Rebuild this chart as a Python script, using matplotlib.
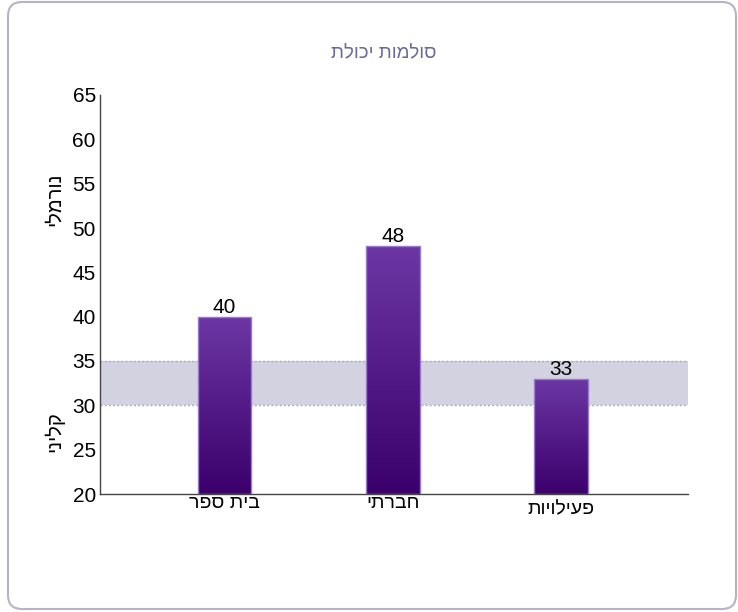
import numpy as np
import matplotlib
matplotlib.use('Agg')
import matplotlib.pyplot as plt
from matplotlib.patches import FancyBboxPatch
from matplotlib.colors import LinearSegmentedColormap

# data
categories = ['בית ספר', 'חברתי', 'פעילויות']
values = [40, 48, 33]
band_low, band_high = 30, 35
y_ticks = [20, 25, 30, 35, 40, 45, 50, 55, 60, 65]
title = 'סולמות יכולת'
label_normal = 'נורמלי'
label_clinical = 'קליני'


def rtl(s):
    # matplotlib has no bidi support, reverse Hebrew for display
    return s[::-1]


plt.rcParams['font.family'] = ['Liberation Sans', 'DejaVu Sans']

fig = plt.figure(figsize=(7.38, 6.12), dpi=100)

# rounded frame around the chart
frame = FancyBboxPatch((8, 3), 728, 607, boxstyle='round,pad=0,rounding_size=14',
                       transform=None, facecolor='none', edgecolor='#b4b4c8',
                       linewidth=1.5, zorder=-1)
fig.patches.append(frame)

ax = fig.add_axes([100 / 738, 1 - 494 / 612, 588 / 738, 399 / 612])
ax.set_facecolor('none')

x = np.arange(len(categories))
width = 0.32

# shaded band
ax.axhspan(band_low, band_high, facecolor='#d2d2e1', edgecolor='none', zorder=1)
for yb in (band_low, band_high):
    ax.axhline(yb, color='#a8a8c8', linestyle=(0, (1.5, 1.5)), linewidth=1, zorder=1)

cmap = LinearSegmentedColormap.from_list('bar', ['#3b006c', '#6c37a4'])
grad = np.linspace(0, 1, 256).reshape(-1, 1)
bars = ax.bar(x, np.array(values) - 20, bottom=20, width=width,
              facecolor='none', edgecolor='#9a78cc', linewidth=1, zorder=3)
for b, v in zip(bars, values):
    im = ax.imshow(grad, cmap=cmap, origin='lower', aspect='auto', zorder=2,
                   extent=(b.get_x(), b.get_x() + b.get_width(), 20, v))
    im.set_clip_path(b)
    ax.text(b.get_x() + b.get_width() / 2, v, str(v), ha='center', va='bottom',
            fontsize=15, color='black', zorder=4)

ax.set_xlim(-0.74, 2.755)
ax.set_ylim(20, 65)
ax.set_yticks(y_ticks)
ax.set_yticklabels([str(t) for t in y_ticks], fontsize=15)
ax.tick_params(axis='y', length=0, pad=3)
ax.set_xticks([])

for s in ('top', 'right'):
    ax.spines[s].set_visible(False)
for s in ('left', 'bottom'):
    ax.spines[s].set_color('#444444')
    ax.spines[s].set_linewidth(1)

# category labels (third one sits lower)
offsets = [-9, -10, -16]
for xi, cat, off in zip(x, categories, offsets):
    ax.annotate(rtl(cat), xy=(xi, 0), xycoords=('data', 'axes fraction'),
                xytext=(0, off), textcoords='offset pixels',
                ha='center', va='center', fontsize=14)

# rotated side labels
ax.annotate(rtl(label_normal), xy=(0, 53.2), xycoords=('axes fraction', 'data'),
            xytext=(-46, 0), textcoords='offset pixels', rotation=90,
            ha='center', va='center', fontsize=14.5)
ax.annotate(rtl(label_clinical), xy=(0, 27), xycoords=('axes fraction', 'data'),
            xytext=(-46, 0), textcoords='offset pixels', rotation=90,
            ha='center', va='center', fontsize=14.5)

fig.text(384 / 738, 1 - 54 / 612, rtl(title), ha='center', va='center',
         fontsize=13.5, color='#6a6a98', fontweight='medium')

fig.savefig('out.png', dpi=100)
